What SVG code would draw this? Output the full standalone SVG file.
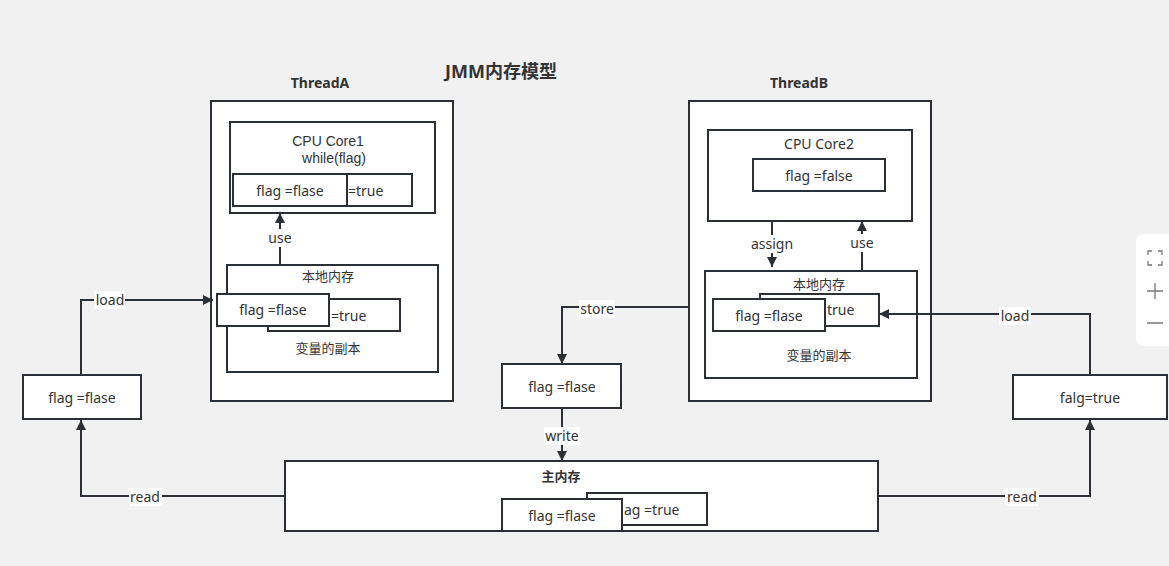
<svg xmlns="http://www.w3.org/2000/svg" width="1169" height="566" viewBox="0 0 1169 566">
<defs>
<style>
text{font-family:"Noto Sans","Noto Sans CJK SC",sans-serif;font-size:14px;fill:#333;text-anchor:middle;dominant-baseline:central}
.b{font-weight:bold}
.s{text-anchor:start}
.l{font-family:"Liberation Sans",sans-serif}
.box{fill:#fff;stroke:#2b2f36;stroke-width:2}
.ln{fill:none;stroke:#2b2f36;stroke-width:2}
.lb{fill:#fff}
</style>
<marker id="ah" viewBox="0 0 10 10" refX="10" refY="5" markerWidth="10" markerHeight="10" markerUnits="userSpaceOnUse" orient="auto">
<path d="M0,0 L10,5 L0,10 z" fill="#2b2f36"/>
</marker>
</defs>
<rect width="1169" height="566" fill="#f1f1f1"/>
<text x="501" y="71" class="b" style="font-size:18px">JMM内存模型</text>

<g id="threadA">
<text x="320" y="82" class="b">ThreadA</text>
<rect class="box" x="211" y="101" width="242" height="300"/>
</g>
<g id="core1">
<rect class="box" x="230" y="122" width="205" height="91"/>
<text x="328" y="141" class="l">CPU Core1</text>
<text x="334" y="158" class="l">while(flag)</text>
<rect class="box" x="279" y="174" width="133" height="32"/>
<text x="348" y="190" class="s">=true</text>
<rect class="box" x="233" y="174" width="114" height="32"/>
<text x="290" y="190">flag =flase</text>
</g>
<g id="localA">
<rect class="box" x="227" y="265" width="211" height="107"/>
<text x="328" y="276" style="font-size:13px">本地内存</text>
<rect class="box" x="268" y="299" width="132" height="32"/>
<text x="331" y="315" class="s">=true</text>
<rect class="box" x="217" y="294" width="112" height="32"/>
<text x="273" y="309">flag =flase</text>
<text x="328" y="348" style="font-size:13px">变量的副本</text>
</g>
<g id="leftBox">
<rect class="box" x="23" y="375" width="118" height="44"/>
<text x="82" y="397">flag =flase</text>
</g>
<g id="storeBox">
<rect class="box" x="502" y="364" width="119" height="44"/>
<text x="562" y="386">flag =flase</text>
</g>
<g id="threadB">
<text x="799" y="82" class="b">ThreadB</text>
<rect class="box" x="689" y="101" width="242" height="300"/>
</g>
<g id="core2">
<rect class="box" x="708" y="130" width="204" height="91"/>
<text x="819" y="143">CPU Core2</text>
<rect class="box" x="753" y="159" width="132" height="32"/>
<text x="819" y="175">flag =false</text>
</g>
<g id="localB">
<rect class="box" x="705" y="271" width="212" height="107"/>
<text x="819" y="284" style="font-size:13px">本地内存</text>
<rect class="box" x="760" y="294" width="119" height="32"/>
<text x="827" y="309" class="s">true</text>
<rect class="box" x="713" y="299" width="112" height="32"/>
<text x="769" y="315">flag =flase</text>
<text x="819" y="355" style="font-size:13px">变量的副本</text>
</g>
<g id="rightBox">
<rect class="box" x="1013" y="375" width="154" height="44"/>
<text x="1090" y="397">falg=true</text>
</g>
<g id="mainMem">
<rect class="box" x="285" y="461" width="593" height="70"/>
<text x="561" y="476" class="b" style="font-size:13px">主内存</text>
<rect class="box" x="587" y="493" width="120" height="32"/>
<text x="624" y="509" class="s">ag =true</text>
<rect class="box" x="502" y="499" width="120" height="32"/>
<text x="562" y="515">flag =flase</text>
</g>

<g id="connectors">
<path class="ln" d="M280,264 V213" marker-end="url(#ah)"/>
<path class="ln" d="M81,375 V300 H213" marker-end="url(#ah)"/>
<path class="ln" d="M285,496 H81 V420" marker-end="url(#ah)"/>
<path class="ln" d="M689,307 H562 V364" marker-end="url(#ah)"/>
<path class="ln" d="M562,408 V461" marker-end="url(#ah)"/>
<path class="ln" d="M772,221 V267" marker-end="url(#ah)"/>
<path class="ln" d="M862,271 V221" marker-end="url(#ah)"/>
<path class="ln" d="M1090,375 V314 H879" marker-end="url(#ah)"/>
<path class="ln" d="M878,496 H1090 V420" marker-end="url(#ah)"/>
<rect class="lb" x="267" y="229" width="27" height="18"/>
<text x="280" y="237">use</text>
<rect class="lb" x="94" y="291" width="31" height="18"/>
<text x="110" y="299">load</text>
<rect class="lb" x="129" y="488" width="33" height="18"/>
<text x="145" y="496">read</text>
<rect class="lb" x="579" y="300" width="36" height="18"/>
<text x="597" y="308">store</text>
<rect class="lb" x="544" y="427" width="36" height="18"/>
<text x="562" y="435">write</text>
<rect class="lb" x="750" y="235" width="44" height="18"/>
<text x="772" y="243">assign</text>
<rect class="lb" x="849" y="234" width="27" height="18"/>
<text x="862" y="242">use</text>
<rect class="lb" x="999" y="307" width="32" height="18"/>
<text x="1015" y="315">load</text>
<rect class="lb" x="1005" y="488" width="34" height="18"/>
<text x="1022" y="496">read</text>
</g>

<g id="zoomPanel">
<rect x="1136" y="234" width="45" height="112" rx="8" fill="#fff"/>
<path d="M1148,255 V251 H1152 M1158,251 H1162 V255 M1162,261 V265 H1158 M1152,265 H1148 V261" fill="none" stroke="#777" stroke-width="1.3"/>
<path d="M1147,291 H1163 M1155,283 V299 M1147,323 H1163" fill="none" stroke="#777" stroke-width="1.3"/>
</g>
</svg>
